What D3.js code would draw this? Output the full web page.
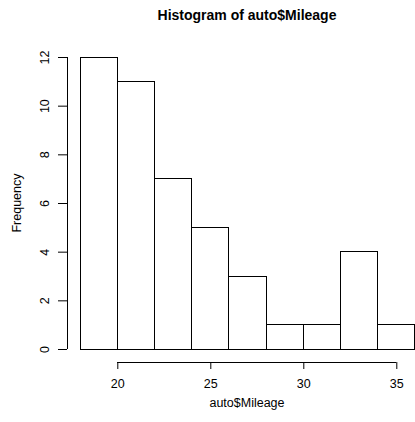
<!DOCTYPE html>
<html>
<head>
<meta charset="utf-8">
<script src="https://cdn.jsdelivr.net/npm/d3@7"></script>
<style>
  body { margin: 0; background: #fff; }
  text { font-family: "Liberation Sans", Arial, sans-serif; fill: #000; }
</style>
</head>
<body>
<svg width="415" height="422"></svg>
<script>
// histogram data: bin edges and counts
const binEdges = [18, 20, 22, 24, 26, 28, 30, 32, 34, 36]
const counts = [12, 11, 7, 5, 3, 1, 1, 4, 1]
const xTicks = [20, 25, 30, 35]
const yTicks = [0, 2, 4, 6, 8, 10, 12]

const svg = d3.select("svg")

const bins = counts.map((c, i) => ({ x0: binEdges[i], x1: binEdges[i + 1], n: c }))

const x = d3.scaleLinear().domain([18, 36]).range([80.1, 414.9])
const y = d3.scaleLinear().domain([0, 12]).range([349, 57])

svg.append("g")
  .selectAll("rect").data(bins)
  .enter().append("rect")
    .attr("x", d => x(d.x0))
    .attr("y", d => y(d.n))
    .attr("width", d => x(d.x1) - x(d.x0))
    .attr("height", d => y(0) - y(d.n))
    .attr("fill", "none")
    .attr("stroke", "#000")
    .attr("stroke-width", 1)
    .attr("shape-rendering", "crispEdges")

// x axis (R style: line spans first to last tick)
const xa = svg.append("g")
  .attr("transform", "translate(0,362)")
  .call(d3.axisBottom(x).tickValues(xTicks).tickSize(7).tickPadding(10).tickSizeOuter(0))
xa.select(".domain").remove()
xa.append("line")
  .attr("x1", x(xTicks[0])).attr("x2", x(xTicks[xTicks.length - 1]))
  .attr("stroke", "#000").attr("shape-rendering", "crispEdges")
xa.selectAll("text").attr("font-size", 12.5).attr("fill", "#000")
  .attr("font-family", "Liberation Sans, Arial, sans-serif")

// y axis
const ya = svg.append("g")
  .attr("transform", "translate(67,0)")
  .call(d3.axisLeft(y).tickValues(yTicks).tickSize(9).tickSizeOuter(0))
ya.select(".domain").remove()
ya.append("line")
  .attr("y1", y(0)).attr("y2", y(12))
  .attr("stroke", "#000").attr("shape-rendering", "crispEdges")
ya.selectAll(".tick text")
  .attr("x", null).attr("dy", null)
  .attr("text-anchor", "middle")
  .attr("transform", "translate(-22,0) rotate(-90)")
  .attr("dy", "0.35em")
  .attr("font-size", 12.5).attr("fill", "#000")
  .attr("font-family", "Liberation Sans, Arial, sans-serif")

svg.append("text")
  .attr("x", 247).attr("y", 20)
  .attr("text-anchor", "middle")
  .style("font-size", "14px")
  .style("font-weight", "bold")
  .attr("fill", "#000")
  .text("Histogram of auto$Mileage")

svg.append("text")
  .attr("x", 247).attr("y", 407)
  .attr("text-anchor", "middle")
  .style("font-size", "12.5px")
  .attr("fill", "#000")
  .text("auto$Mileage")

svg.append("text")
  .attr("transform", "translate(21,203) rotate(-90)")
  .attr("text-anchor", "middle")
  .style("font-size", "12.5px")
  .attr("fill", "#000")
  .text("Frequency")
</script>
</body>
</html>
